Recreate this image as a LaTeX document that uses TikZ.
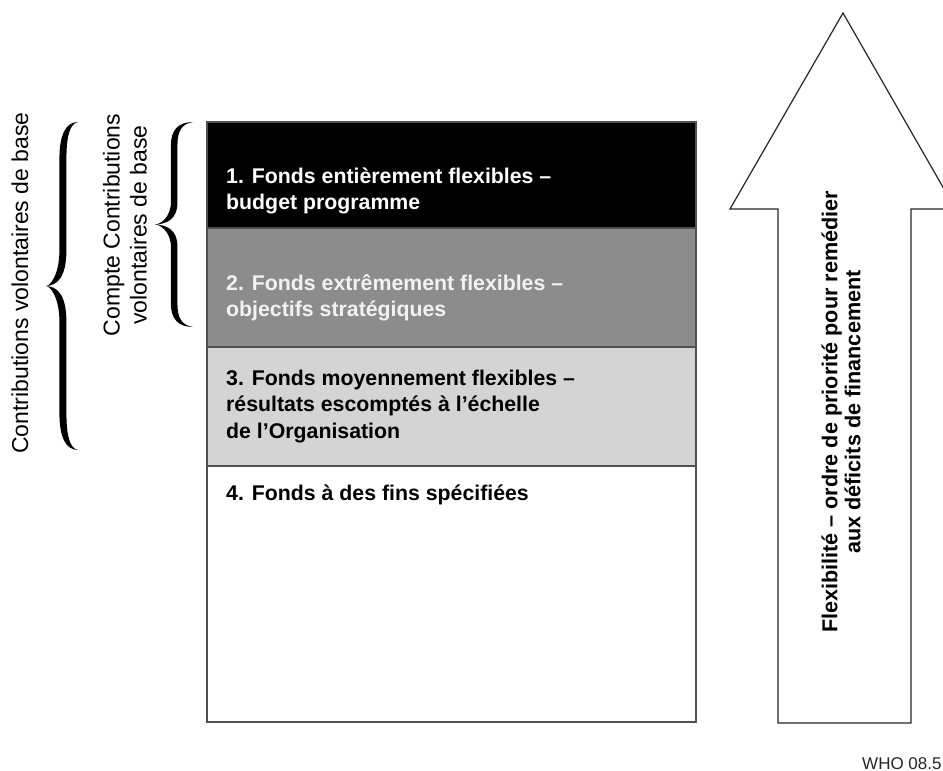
\documentclass[tikz,border=0pt]{standalone}
\usepackage{fontspec}
\setmainfont{Liberation Sans}
\definecolor{bandtwo}{HTML}{8C8C8C}
\definecolor{bandthree}{HTML}{D4D4D4}
\definecolor{rulegray}{HTML}{505050}
\newcommand{\curlybrace}[5]{%
 \pgfmathsetmacro{\bE}{#1}%
 \pgfmathsetmacro{\bT}{#2}%
 \pgfmathsetmacro{\bS}{#2+0.42*(#1-#2)}%
 \pgfmathsetmacro{\bI}{\bS+#5}%
 \pgfmathsetmacro{\bA}{#3}%
 \pgfmathsetmacro{\bB}{#4}%
 \pgfmathsetmacro{\bM}{(#3+#4)/2}%
 \pgfmathsetmacro{\bR}{0.11*(#4-#3)}%
 \fill (\bE,\bA) .. controls ({\bS+0.35*(\bE-\bS)},\bA) and (\bS,{\bA+0.35*\bR}) .. (\bS,{\bA+\bR})
   -- (\bS,{\bM-\bR})
   .. controls (\bS,{\bM-0.3*\bR}) and ({\bT+0.3*(\bS-\bT)},\bM) .. (\bT,\bM)
   .. controls ({\bT+0.3*(\bS-\bT)},\bM) and (\bS,{\bM+0.3*\bR}) .. (\bS,{\bM+\bR})
   -- (\bS,{\bB-\bR})
   .. controls (\bS,{\bB-0.35*\bR}) and ({\bS+0.35*(\bE-\bS)},\bB) .. (\bE,\bB)
   .. controls ({\bI+0.3*(\bE-\bI)},{\bB-1.5}) and (\bI,{\bB-0.4*\bR}) .. (\bI,{\bB-\bR})
   -- (\bI,{\bM+\bR})
   .. controls (\bI,{\bM+0.2*\bR}) and ({\bT+0.5*(\bI-\bT)},{\bM+0.5}) .. (\bT,\bM)
   .. controls ({\bT+0.5*(\bI-\bT)},{\bM-0.5}) and (\bI,{\bM-0.2*\bR}) .. (\bI,{\bM-\bR})
   -- (\bI,{\bA+\bR})
   .. controls (\bI,{\bA+0.4*\bR}) and ({\bI+0.3*(\bE-\bI)},{\bA+1.5}) .. (\bE,\bA)
   -- cycle;
}
\begin{document}
\begin{tikzpicture}[x=1pt,y=-1pt,
  bandtext/.style={anchor=base west,inner sep=0pt,font=\fontsize{21.3}{26.6}\selectfont\bfseries},
  sidelabel/.style={rotate=90,inner sep=0pt,align=center,font=\fontsize{23}{27}\selectfont},
  arrowlabel/.style={rotate=90,inner sep=0pt,align=center,font=\fontsize{21.6}{23}\selectfont\bfseries},
  bandline/.style={draw=rulegray,line width=1.3pt}]
\clip (0,0) rectangle (943,771);
\fill[white] (0,0) rectangle (943,771);
% bands
\fill[black] (207,122) rectangle (696,228);
\fill[bandtwo] (207,228) rectangle (696,347);
\fill[bandthree] (207,347) rectangle (696,466);
\draw[bandline] (207,228) -- (696,228);
\draw[bandline] (207,347) -- (696,347);
\draw[bandline] (207,466) -- (696,466);
\draw[bandline] (207,122) rectangle (696,722);
% band texts
\node[bandtext,text=white] (t1) at (226,183) {\parbox[t]{440pt}{\raggedright 1. Fonds entièrement flexibles –\\budget programme}};
\node[bandtext,text=white!95!black] (t2) at (226,290) {\parbox[t]{440pt}{\raggedright 2. Fonds extrêmement flexibles –\\objectifs stratégiques}};
\node[bandtext,text=black] (t3) at (226,385) {\parbox[t]{440pt}{\raggedright 3. Fonds moyennement flexibles –\\résultats escomptés à l’échelle\\de l’Organisation}};
\node[bandtext,text=black] (t4) at (226,500) {\parbox[t]{440pt}{\raggedright 4. Fonds à des fins spécifiées}};
% braces
\curlybrace{78}{46}{122}{450}{7}
\curlybrace{193}{155}{122}{327}{6.5}
\node[sidelabel] (cvb) at (20,283) {Contributions volontaires de base};
\node[sidelabel] (ccvb) at (125,225) {Compte Contributions\\volontaires de base};
% big arrow
\draw[draw=black!85,line width=1.2pt,line join=miter]
  (843,13) -- (955.5,209) -- (911,209) -- (911,723) -- (778,723) -- (778,209) -- (730,209) -- cycle;
\node[arrowlabel] (flex) at (841,412) {Flexibilité – ordre de priorité pour remédier\\aux déficits de financement};
% footer
\node[anchor=base west,inner sep=0pt,font=\fontsize{17}{19}\selectfont,text=black!85] (who) at (862,769) {WHO 08.5};
\end{tikzpicture}
\end{document}
